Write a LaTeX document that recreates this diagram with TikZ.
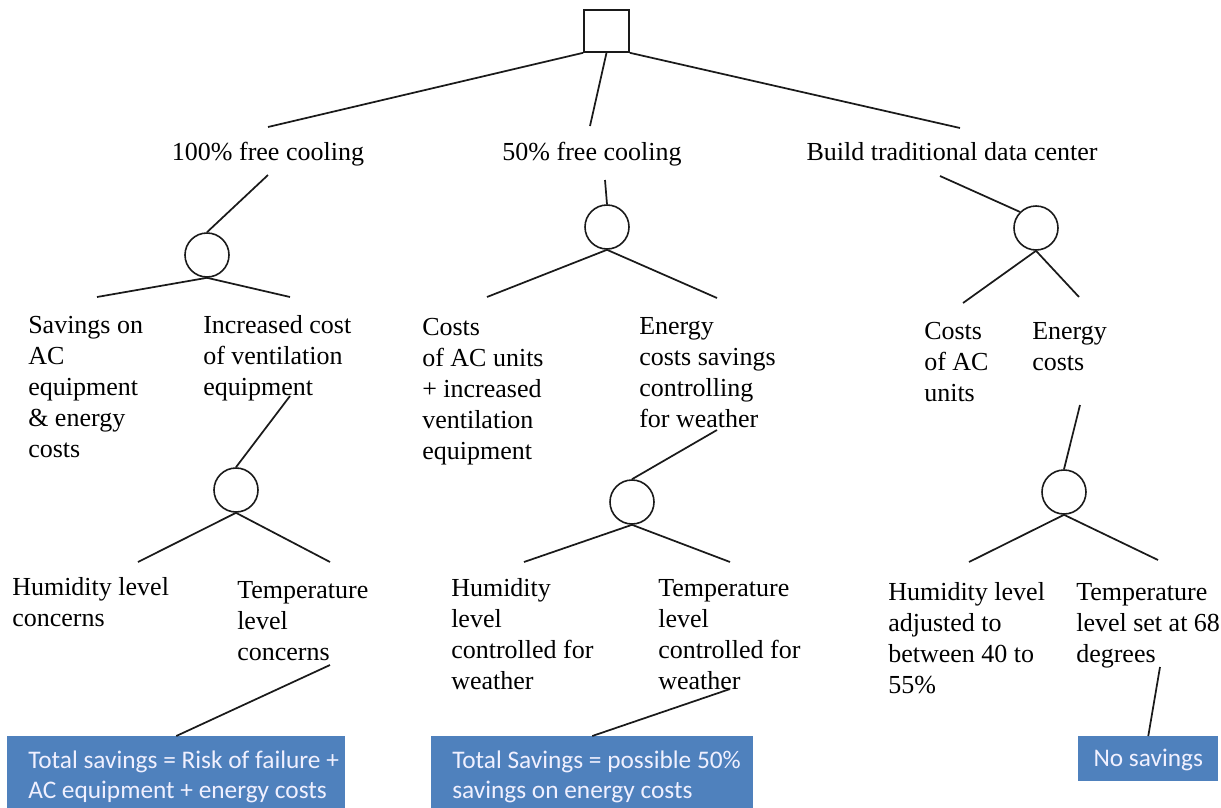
\documentclass[tikz,border=0pt]{standalone}
\usepackage{fontspec}
\setmainfont{Liberation Serif}
\newfontfamily\boxfont{Carlito}
\definecolor{boxblue}{HTML}{4F81BD}
\definecolor{lineclr}{HTML}{1A1A1A}
\begin{document}
\begin{tikzpicture}[x=0.75pt,y=-0.75pt,
  edge/.style={draw=lineclr, line width=1.3pt},
  lbl/.style={inner sep=0, anchor=north west, align=left, yshift=-1.5pt, font=\fontsize{19.5}{23.25}\selectfont},
  toplbl/.style={inner sep=0, anchor=base, font=\fontsize{19.5}{23.25}\selectfont},
  chance/.style={circle, draw=lineclr, line width=1.2pt, minimum size=33pt, inner sep=0},
  decision/.style={rectangle, draw=lineclr, line width=1.2pt, minimum width=33.75pt, minimum height=31.5pt, inner sep=0},
  result/.style={rectangle, fill=boxblue, draw=none, inner sep=0, anchor=north west},
  restext/.style={inner sep=0, anchor=north west, align=left, text=white!94!blue, font=\boxfont\fontsize{19}{22.5}\selectfont}]
\useasboundingbox (0,0) rectangle (1221,807);
\clip (0,0) rectangle (1221,807);

% decision node
\node[decision] (root) at (606.5,31) {};

% level 1 labels
\node[toplbl] (A) at (268,160) {100\% free cooling};
\node[toplbl] (B) at (592,160) {50\% free cooling};
\node[toplbl] (C) at (952,160) {Build traditional data center};
\coordinate (Atop) at (268,127);
\coordinate (Btop) at (590,126);
\coordinate (Ctop) at (960,128);
\coordinate (Abot) at (268,175);
\coordinate (Bbot) at (605,180);
\coordinate (Cbot) at (940,176);

\draw[edge] (root.south west) -- (Atop);
\draw[edge] (root.south) -- (Btop);
\draw[edge] (root.south east) -- (Ctop);

% chance nodes level 1
\node[chance] (c1) at (207,255) {};
\node[chance] (c2) at (607,227) {};
\node[chance] (c3) at (1036,228) {};
\draw[edge] (Abot) -- (c1.north);
\draw[edge] (Bbot) -- (c2.north);
\draw[edge] (Cbot) -- (c3.north west);

% level 2 labels
\node[lbl] (A1) at (28,310) {\strut Savings on\\AC\\equipment\\\& energy\\costs};
\node[lbl] (A2) at (203,310) {\strut Increased cost\\of ventilation\\equipment};
\node[lbl] (B1) at (422,312) {\strut Costs\\of AC units\\+ increased\\ventilation\\equipment};
\node[lbl] (B2) at (639,311) {\strut Energy\\costs savings\\controlling\\for weather};
\node[lbl] (C1) at (924,316) {\strut Costs\\of AC\\units};
\node[lbl] (C2) at (1032,316) {\strut Energy\\costs};

\coordinate (A1top) at (97,297);
\coordinate (A2top) at (290,297);
\coordinate (B1top) at (487,297);
\coordinate (B2top) at (717,298);
\coordinate (C1top) at (963,303);
\coordinate (C2top) at (1079,297);
\draw[edge] (c1.south) -- (A1top);
\draw[edge] (c1.south) -- (A2top);
\draw[edge] (c2.south) -- (B1top);
\draw[edge] (c2.south) -- (B2top);
\draw[edge] (c3.south) -- (C1top);
\draw[edge] (c3.south) -- (C2top);

% chance nodes level 2
\node[chance] (c4) at (236,490) {};
\node[chance] (c5) at (632,502) {};
\node[chance] (c6) at (1064,492) {};
\coordinate (A2bot) at (290,396);
\coordinate (B2bot) at (717,430);
\coordinate (C2bot) at (1080,405);
\draw[edge] (A2bot) -- (c4.north);
\draw[edge] (B2bot) -- (c5.north);
\draw[edge] (C2bot) -- (c6.north);

% level 3 labels
\node[lbl] (A21) at (12,572) {\strut Humidity level\\concerns};
\node[lbl] (A22) at (237,575) {\strut Temperature\\level\\concerns};
\node[lbl] (B21) at (451,573) {\strut Humidity\\level\\controlled for\\weather};
\node[lbl] (B22) at (658,573) {\strut Temperature\\level\\controlled for\\weather};
\node[lbl] (C21) at (888,577) {\strut Humidity level\\adjusted to\\between 40 to\\55\%};
\node[lbl] (C22) at (1076,577) {\strut Temperature\\level set at 68\\degrees};

\coordinate (A21top) at (138,562);
\coordinate (A22top) at (330,562);
\coordinate (B21top) at (524,562);
\coordinate (B22top) at (730,562);
\coordinate (C21top) at (969,562);
\coordinate (C22top) at (1158,560);
\draw[edge] (c4.south) -- (A21top);
\draw[edge] (c4.south) -- (A22top);
\draw[edge] (c5.south) -- (B21top);
\draw[edge] (c5.south) -- (B22top);
\draw[edge] (c6.south) -- (C21top);
\draw[edge] (c6.south) -- (C22top);

% result boxes
\node[result, minimum width=253.5pt, minimum height=60pt] (r1) at (7,736) {};
\node[result, minimum width=241.5pt, minimum height=60pt] (r2) at (431,736) {};
\node[result, minimum width=105pt, minimum height=33.75pt] (r3) at (1078,736) {};
\node[restext] (r1t) at (28,747) {\strut Total savings = Risk of failure +\\AC equipment + energy costs};
\node[restext] (r2t) at (452,747) {\strut Total Savings = possible 50\%\\savings on energy costs};
\node[restext, anchor=center, align=center] (r3t) at ([yshift=-1pt]r3.center) {No savings};

\coordinate (A22bot) at (330,665);
\coordinate (B22bot) at (730,689);
\coordinate (C22bot) at (1160,667);
\draw[edge] (A22bot) -- (r1.north);
\draw[edge] (B22bot) -- (r2.north);
\draw[edge] (C22bot) -- (r3.north);
\end{tikzpicture}
\end{document}
